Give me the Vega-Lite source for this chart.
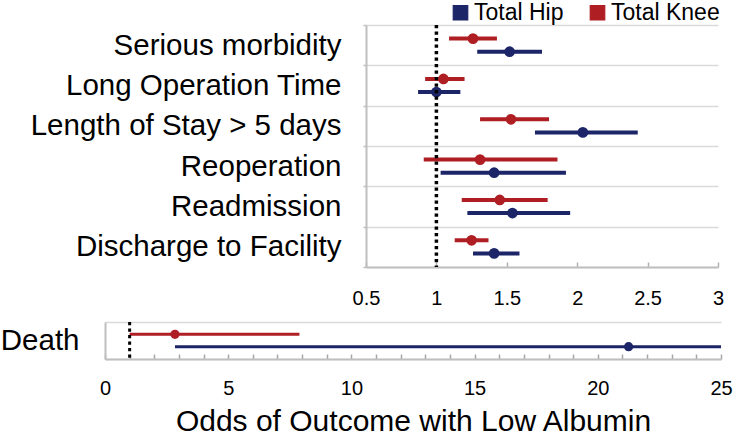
{
  "$schema": "https://vega.github.io/schema/vega-lite/v6.json",
  "padding": {"left": 0, "top": 1, "right": 0, "bottom": 0},
  "background": "white",
  "config": {"font": "Liberation Sans", "view": {"stroke": null}},
  "datasets": {
    "odds": [
      {"outcome": "Serious morbidity", "group": "Total Knee", "or": 1.26, "lo": 1.09, "hi": 1.43},
      {"outcome": "Serious morbidity", "group": "Total Hip", "or": 1.52, "lo": 1.29, "hi": 1.75},
      {"outcome": "Long Operation Time", "group": "Total Knee", "or": 1.05, "lo": 0.92, "hi": 1.2},
      {"outcome": "Long Operation Time", "group": "Total Hip", "or": 1.0, "lo": 0.87, "hi": 1.17},
      {"outcome": "Length of Stay > 5 days", "group": "Total Knee", "or": 1.53, "lo": 1.31, "hi": 1.8},
      {"outcome": "Length of Stay > 5 days", "group": "Total Hip", "or": 2.04, "lo": 1.7, "hi": 2.43},
      {"outcome": "Reoperation", "group": "Total Knee", "or": 1.31, "lo": 0.91, "hi": 1.86},
      {"outcome": "Reoperation", "group": "Total Hip", "or": 1.41, "lo": 1.03, "hi": 1.92},
      {"outcome": "Readmission", "group": "Total Knee", "or": 1.45, "lo": 1.18, "hi": 1.79},
      {"outcome": "Readmission", "group": "Total Hip", "or": 1.54, "lo": 1.22, "hi": 1.95},
      {"outcome": "Discharge to Facility", "group": "Total Knee", "or": 1.25, "lo": 1.13, "hi": 1.37},
      {"outcome": "Discharge to Facility", "group": "Total Hip", "or": 1.41, "lo": 1.26, "hi": 1.59},
      {"outcome": "Death", "group": "Total Knee", "or": 2.84, "lo": 1.0, "hi": 7.89},
      {"outcome": "Death", "group": "Total Hip", "or": 21.25, "lo": 2.84, "hi": 25}
    ],
    "ref": [{"value": 1}]
  },
  "spacing": -1,
  "resolve": {
    "scale": {"x": "independent", "y": "independent", "yOffset": "independent", "color": "independent"},
    "legend": {"color": "independent"}
  },
  "vconcat": [
    {
      "width": 352,
      "height": 242,
      "layer": [
        {
          "data": {"name": "odds"},
          "transform": [{"filter": "datum.outcome !== 'Death'"}],
          "mark": {"type": "rule", "strokeWidth": 4},
          "encoding": {
            "y": {
              "field": "outcome", "type": "nominal",
              "sort": ["Serious morbidity", "Long Operation Time", "Length of Stay > 5 days", "Reoperation", "Readmission", "Discharge to Facility"],
              "scale": {"paddingInner": 0, "paddingOuter": 0},
              "axis": {
                "title": null, "minExtent": 363, "maxExtent": 363,
                "labelFontSize": 29.5, "labelColor": "black", "labelPadding": 22, "labelLimit": 400,
                "tickSize": 3, "tickBand": "extent", "tickColor": "#bfbfbf", "tickWidth": 1.5,
                "domainColor": "#bfbfbf", "domainWidth": 2,
                "grid": true, "gridColor": "#d9d9d9", "gridWidth": 1.5
              }
            },
            "yOffset": {"field": "group", "type": "nominal", "sort": ["Total Knee", "Total Hip"], "scale": {"paddingInner": 0, "paddingOuter": 0.54}},
            "x": {
              "field": "lo", "type": "quantitative",
              "scale": {"domain": [0.5, 3], "nice": false, "zero": false},
              "axis": {
                "values": [0.5, 1, 1.5, 2, 2.5, 3], "tickCount": 20, "format": "~g", "title": null, "grid": false,
                "labelFontSize": 20, "labelColor": "black", "labelPadding": 26, "labelFlush": false, "labelOverlap": false,
                "tickSize": -5, "tickColor": "#b0b0b0", "tickWidth": 1.5,
                "domainColor": "#bfbfbf", "domainWidth": 2
              }
            },
            "x2": {"field": "hi"},
            "color": {
              "field": "group", "type": "nominal",
              "scale": {"domain": ["Total Hip", "Total Knee"], "range": ["#1B2567", "#AE1E23"]},
              "legend": {
                "orient": "none", "legendX": 83, "legendY": -24, "direction": "horizontal", "title": null,
                "symbolType": "square", "symbolSize": 210, "labelFontSize": 23, "labelColor": "black",
                "labelOffset": 2, "columnPadding": 22, "padding": 0, "labelLimit": 300,
                "encode": {"symbols": {"update": {"stroke": {"value": "black"}, "strokeWidth": {"value": 1.2}, "fillOpacity": {"value": 1}}}}
              }
            }
          }
        },
        {
          "data": {"name": "odds"},
          "transform": [{"filter": "datum.outcome !== 'Death'"}],
          "mark": {"type": "circle", "size": 115, "opacity": 1},
          "encoding": {
            "y": {"field": "outcome", "type": "nominal", "sort": ["Serious morbidity", "Long Operation Time", "Length of Stay > 5 days", "Reoperation", "Readmission", "Discharge to Facility"]},
            "yOffset": {"field": "group", "type": "nominal", "sort": ["Total Knee", "Total Hip"]},
            "x": {"field": "or", "type": "quantitative"},
            "color": {"field": "group", "type": "nominal"}
          }
        },
        {
          "data": {"name": "ref"},
          "mark": {"type": "rule", "color": "black", "strokeWidth": 3.5, "strokeDash": [3.3, 3.2]},
          "encoding": {"x": {"field": "value", "type": "quantitative"}}
        }
      ]
    },
    {
      "width": 355,
      "height": 37,
      "layer": [
        {
          "data": {"name": "odds"},
          "transform": [{"filter": "datum.outcome === 'Death'"}],
          "mark": {"type": "rule", "strokeWidth": 3},
          "encoding": {
            "y": {
              "field": "outcome", "type": "nominal",
              "scale": {"paddingInner": 0, "paddingOuter": 0},
              "axis": {
                "title": null, "offset": 261, "labelFontSize": 29.5, "labelColor": "black", "labelPadding": 26,
                "tickSize": 0, "tickBand": "extent", "domainColor": "#bfbfbf", "domainWidth": 2,
                "grid": true, "gridColor": "#d9d9d9", "gridWidth": 1.5
              }
            },
            "yOffset": {"field": "group", "type": "nominal", "sort": ["Total Knee", "Total Hip"], "scale": {"paddingInner": 0, "paddingOuter": 0.5}},
            "x": {
              "field": "lo", "type": "quantitative",
              "scale": {"domain": [0, 25], "range": [-261, 355], "nice": false, "zero": false},
              "axis": {
                "values": [0, 1, 2, 3, 4, 5, 6, 7, 8, 9, 10, 11, 12, 13, 14, 15, 16, 17, 18, 19, 20, 21, 22, 23, 24, 25],
                "tickCount": 40, "format": "d",
                "labelExpr": "datum.value % 5 === 0 ? datum.label : ''",
                "title": "Odds of Outcome with Low Albumin", "titleFontSize": 30, "titleFontWeight": "normal", "titleColor": "black", "titlePadding": 8,
                "grid": false, "labelFontSize": 20, "labelColor": "black", "labelPadding": 24, "labelFlush": false, "labelOverlap": false,
                "tickSize": -5, "tickColor": "#a6a6a6", "tickWidth": 1.5,
                "domainColor": "#bfbfbf", "domainWidth": 2
              }
            },
            "x2": {"field": "hi"},
            "color": {
              "field": "group", "type": "nominal",
              "scale": {"domain": ["Total Hip", "Total Knee"], "range": ["#1B2567", "#AE1E23"]},
              "legend": null
            }
          }
        },
        {
          "data": {"name": "odds"},
          "transform": [{"filter": "datum.outcome === 'Death'"}],
          "mark": {"type": "circle", "size": 85, "opacity": 1},
          "encoding": {
            "y": {"field": "outcome", "type": "nominal"},
            "yOffset": {"field": "group", "type": "nominal", "sort": ["Total Knee", "Total Hip"]},
            "x": {"field": "or", "type": "quantitative"},
            "color": {"field": "group", "type": "nominal", "legend": null}
          }
        },
        {
          "data": {"name": "ref"},
          "mark": {"type": "rule", "color": "black", "strokeWidth": 3, "strokeDash": [3.3, 3.2]},
          "encoding": {"x": {"field": "value", "type": "quantitative"}}
        }
      ]
    }
  ]
}
